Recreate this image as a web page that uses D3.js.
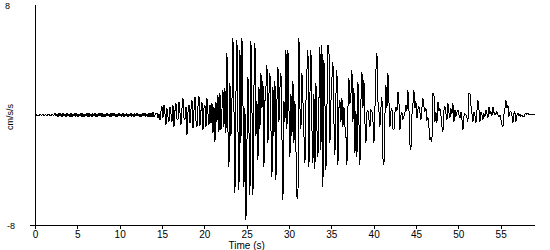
<!DOCTYPE html>
<html>
<head>
<meta charset="utf-8">
<script src="https://cdn.jsdelivr.net/npm/d3@7/dist/d3.min.js"></script>
<style>
  body { margin: 0; background: #fff; }
  svg text { font-family: Arial, "Liberation Sans", sans-serif; fill: #000; }
</style>
</head>
<body>
<div id="chart"><svg id="seis"></svg></div>
<script>
// acceleration readings (cm/s/s), one every sampleStep seconds
const quietPart = [
  0, 0.02, -0.02, 0.01, -0.02, 0.02, 0, -0.01, 0.02, -0.02,
  0.01, 0, -0.02, 0.02, -0.01, 0.01, -0.02, 0.02, 0, -0.01,
  0.12, -0.1, 0.09, -0.13, 0.11, -0.08, 0.1, -0.12, 0.13, -0.09,
  0.08, -0.11, 0.12, -0.1, 0.07, -0.12, 0.11, -0.13, 0.09, -0.08,
  0.13, -0.1, 0.1, -0.12, 0.08, -0.09, 0.12, -0.11, 0.1, -0.13,
  0.09, -0.08, 0.11, -0.12, 0.13, -0.1, 0.08, -0.11, 0.1, -0.09,
  0.12, -0.13, 0.09, -0.1, 0.11, -0.08, 0.13, -0.12, 0.1, -0.11,
  0.09, -0.1, 0.12, -0.09, 0.08, -0.13, 0.11, -0.1, 0.12, -0.08,
  0.1, -0.12, 0.09, -0.11, 0.13, -0.09, 0.08, -0.1, 0.11, -0.12,
  0.09, -0.08, 0.1, -0.11, 0.07, -0.09, 0.12, -0.1, 0.08, -0.11,
  0.1, -0.09, 0.11, -0.08, 0.09, -0.12, 0.08, -0.1, 0.11, -0.09,
  0.13, -0.11, 0.09, -0.14, 0.16, -0.12, 0.14, -0.16, 0.19, -0.14
];
const strongPart = [
  0, 0.1, 0.15, -0.24, 0.1, -0.36, 0.3, 0.61, -0.2, 0.73,
  0.1, -0.73, 0.48, -0.1, -0.48, 0.61, 0.1, -0.48, 0.73, -0.85,
  0.3, 0.85, -0.3, -0.36, 0.97, 0.2, -0.73, 0.5, 1.21, -0.2,
  -0.36, 0.61, -1.45, 0.2, 0.73, -0.61, 0.4, 1.09, -0.97, 0.3,
  1.33, -0.4, -0.85, 0.6, 1.41, -0.8, 0.3, 0.97, -1.09, 0.5,
  0.73, -0.85, 1.21, 0.1, -0.73, 0.73, -0.61, 0.85, -1.33, 0.61,
  -1.94, 0.97, -0.5, 1.45, -1.21, 1.58, -1.09, 0.4, 1.82, -0.85,
  1.94, -1.33, 4.48, -1.09, -3.76, 2.3, -1.5, 1.0, 5.58, 0.5,
  -5.7, 1.5, 5.45, -1.0, -5.45, 4.73, -2.0, 5.58, 1.0, -5.21,
  0.5, -7.64, -2.0, 2.79, -1.0, -5.82, 5.41, 0.5, -5.82, 2.0,
  5.21, -1.5, 1.0, -3.27, 2.0, -1.0, 3.03, 0.5, 2.5, -3.76,
  1.0, 2.0, 3.64, -2.0, 1.5, 3.03, -1.0, -4.48, 2.0, -1.5,
  2.5, -4.73, 1.0, 3.52, -0.5, 2.0, 3.03, -1.5, -6.18, 1.0,
  -0.5, 4.73, -1.0, 4.73, 0.5, -3.03, 1.5, -1.5, 2.5, -2.0,
  1.0, -2.5, -5.94, -6.06, 5.58, 0.5, -1.0, 3.03, 1.0, -1.5,
  -3.52, 1.0, 3.27, 4.7, -3.76, 1.5, 4.73, -1.0, -3.52, 1.5,
  -3.9, 2.3, -1.0, -3.03, 1.0
];
const codaPart = [
  4.97, -2.55, 5.09, -5.21, 4.0, 1.0, -4.0, 0.5, 5.09, 4.85,
  -2.06, 1.0, 2.67, 3.88, -0.5, -2.91, 1.5, 3.27, -3.64, 0.5,
  1.09, -0.5, 1.21, -0.85, 0.61, -0.85, -1.5, -3.64, 0.5, 2.67,
  0.8, 1.5, 3.27, -0.5, 1.94, -2.79, 0.3, -3.03, 2.42, -0.5,
  -3.64, 1.0, 3.15, 0.5, 2.55, -0.5, -2.06, 0.2, 0.36, -0.3,
  -0.85, 0.36, 0.24, -0.4, -2.06, 0.5, 3.27, 4.48, 1.0, 0.3,
  -0.85, 0.5, 1.33, -3.15, -3.64, 0, 2.18, 0.5, 3.03, 1.0,
  -0.85, 0.3, 0.48, -1.0, -1.09, 0.2, 0.61, 0.3, 1.7, 0.97,
  -1.09, 0, 0.2, -0.3, -0.12, 0.2, 0.73, 0.3, 1.82, 0.5,
  -2.18, -2.55, 0, 0.8, 1.82, 0.48, 1.0, -0.24, 0.4, 0.61,
  0.2, -0.36, 0.5, 1.21, 0.6, 0.24, 0.5, -0.36, -0.2, -0.85,
  -1.82, -1.6, -1.94, 1.58, 1.58, -0.48, 0.2, -0.6, 0.97, 0.3,
  0.48, 0, -0.85, -1.21, 0.36, 0.61, 0.1, -0.36, 0.85, 0.2,
  -0.24, 0.48, 0.1, 0.85, -0.48, 0.36, -0.12, 0.2, 0.36, 0,
  -0.24, 0.24, -0.3, -1.09, -0.12, 0.1, 0, -0.2, -0.48, 1.58,
  1.58, 0.73, 0.1, -0.48, 0.24, 0, -0.61, 0.3, 1.09, 0.4,
  -0.48, 0.24, 0, -0.36, 0.12, -0.1, 0.36, 0.1, -0.24, 0.61,
  0.1, 0.24, -0.1, 0.61, 0.2, 0, 0.1, 0.24, 0, -0.12,
  0, -0.3, -0.73, -0.85, 0, 0.48, 1.09, 0.5, 0.73, -0.12,
  0.2, 0.24, 0, -0.61, 0.1, 0.24, -0.48, 0, 0.12, -0.05,
  0.05, -0.1, 0, -0.15, -0.12, 0.05, 0.12, 0.05, 0.12, 0.05,
  0.05, 0.05, 0.05, 0.05, 0.05, 0.05
];
const sampleStep = 0.1181; // s
const xTicks = [0, 5, 10, 15, 20, 25, 30, 35, 40, 45, 50, 55];
const yLimits = [-8, 8];
const xMax = 59.06;

const accel = quietPart.concat(strongPart, codaPart);
const data = accel.map((v, i) => ({t: i * sampleStep, v: v}));

const margin = {top: 5, right: 15, bottom: 25, left: 35};
const width = 550 - margin.left - margin.right;
const height = 250 - margin.top - margin.bottom;

const root = d3.select('#seis')
  .attr('width', width + margin.left + margin.right)
  .attr('height', height + margin.top + margin.bottom);

const svg = root.append('g')
  .attr('transform', 'translate(' + margin.left + ',' + margin.top + ')');

// scales
const x = d3.scaleLinear().domain([0, xMax]).range([0, width]);
const y = d3.scaleLinear().domain(yLimits).range([height, 0]);

// x axis
svg.append('g')
  .attr('transform', 'translate(0,' + height + ')')
  .call(d3.axisBottom(x).tickValues(xTicks).tickSize(4).tickSizeOuter(0).tickPadding(2))
  .call(g => g.select('.domain').remove())
  .call(g => g.selectAll('line').attr('stroke', '#000').attr('shape-rendering', 'crispEdges'))
  .call(g => g.selectAll('text').attr('font-family', 'Arial, "Liberation Sans", sans-serif').attr('font-size', 10).attr('fill', '#000'));

svg.append('line')
  .attr('x1', x(0) - 5).attr('x2', x(xMax))
  .attr('y1', y(yLimits[0])).attr('y2', y(yLimits[0]))
  .attr('stroke', '#000').attr('shape-rendering', 'crispEdges');

// y axis
svg.append('line')
  .attr('x1', x(0)).attr('x2', x(0))
  .attr('y1', y(yLimits[1])).attr('y2', y(yLimits[0]))
  .attr('stroke', '#000').attr('shape-rendering', 'crispEdges');

svg.append('text')
  .attr('x', -30).attr('y', y(yLimits[1]) + 4)
  .attr('font-size', 9)
  .text(yLimits[1]);

svg.append('text')
  .attr('x', -28).attr('y', y(yLimits[0]) + 4)
  .attr('font-size', 9)
  .text(yLimits[0]);

svg.append('text')
  .attr('transform', 'translate(-22,' + (y(0) + 2) + ') rotate(-90)')
  .attr('text-anchor', 'middle')
  .attr('font-size', 9)
  .text('cm/s/s');

svg.append('text')
  .attr('x', x(25)).attr('y', height + 24)
  .attr('text-anchor', 'middle')
  .attr('font-size', 10)
  .text('Time (s)');

// trace
svg.append('path')
  .datum(data)
  .attr('fill', 'none')
  .attr('stroke', '#000')
  .attr('stroke-width', 1)
  .attr('shape-rendering', 'crispEdges')
  .attr('d', d3.line()
    .x(function(d){ return x(d.t) })
    .y(function(d){ return y(d.v) }));
</script>
</body>
</html>
